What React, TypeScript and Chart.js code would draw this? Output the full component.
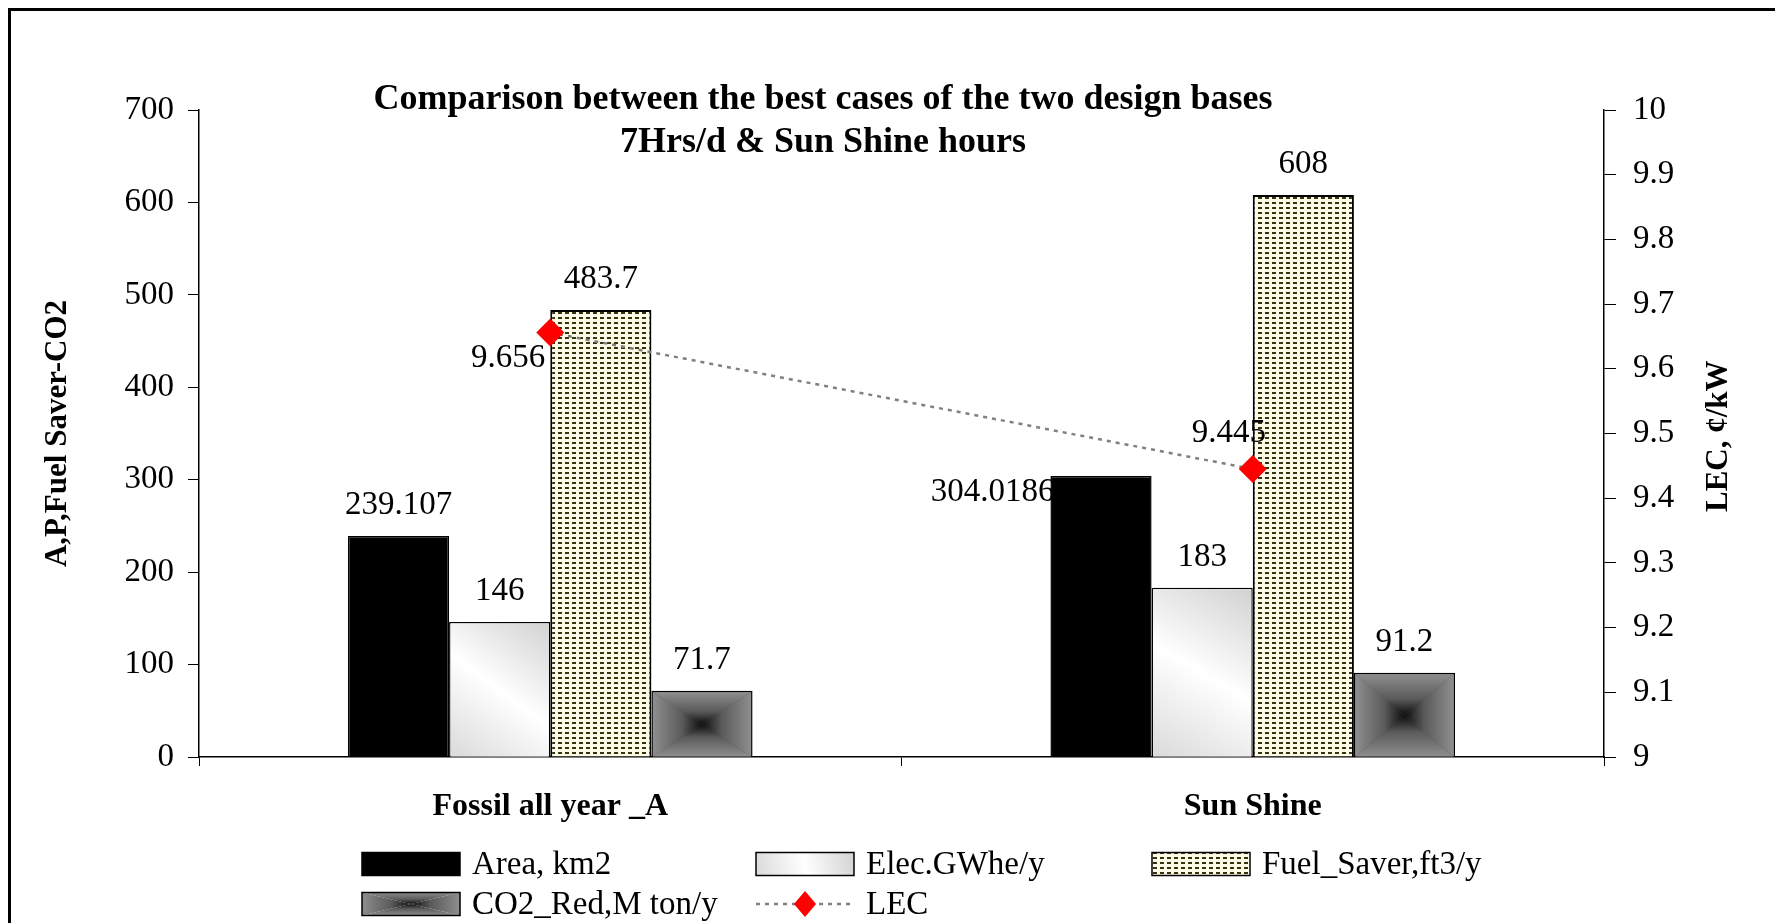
import React, { useEffect, useRef } from 'react';
import { Chart, registerables } from 'chart.js';

Chart.register(...registerables);

// ---------- data ----------
const categories = ['Fossil all year _A', 'Sun Shine'];
const seriesNames = ['Area, km2', 'Elec.GWhe/y', 'Fuel_Saver,ft3/y', 'CO2_Red,M ton/y', 'LEC'];
const areaKm2 = [239.107, 304.0186];
const elecGWh = [146, 183];
const fuelSaver = [483.7, 608];
const co2Red = [71.7, 91.2];
const lecValues = [9.656, 9.445];
const leftAxisRange = [0, 700];
const leftAxisStep = 100;
const rightAxisRange = [9, 10];
const rightAxisStep = 0.1;
const titleLines = ['Comparison between the best cases of the two design bases', '7Hrs/d & Sun Shine hours'];
const leftAxisTitle = 'A,P,Fuel Saver-CO2';
const rightAxisTitle = 'LEC, \u00A2/kW';

const FONT = '"Liberation Serif", "Times New Roman", serif';
const NUM_SIZE = 33;

// ---------- fills ----------
function makeFuelPattern(ctx: CanvasRenderingContext2D): CanvasPattern | string {
  const c = document.createElement('canvas');
  c.width = 7;
  c.height = 5;
  const g = c.getContext('2d');
  if (!g) return '#e8e6cc';
  g.fillStyle = '#fdfbe8';
  g.fillRect(0, 0, 7, 5);
  g.fillStyle = '#34340c';
  g.fillRect(1, 1, 4, 2);
  return ctx.createPattern(c, 'repeat') || '#e8e6cc';
}

function paintFill(ctx: CanvasRenderingContext2D, key: string, x0: number, y0: number, x1: number, y1: number) {
  if (x1 - x0 <= 0 || y1 - y0 <= 0) return;
  if (key === 'elec') {
    const g = ctx.createLinearGradient(x1, y0, x0, y1);
    g.addColorStop(0, '#d2d2d2');
    g.addColorStop(0.5, '#ffffff');
    g.addColorStop(1, '#dadada');
    ctx.fillStyle = g;
    ctx.fillRect(x0, y0, x1 - x0, y1 - y0);
  } else if (key === 'co2') {
    const cx = (x0 + x1) / 2;
    const cy = (y0 + y1) / 2;
    const sides: [number, number, number, number, number[][]][] = [
      [cx, y0, cx, cy, [[x0, y0], [x1, y0]]],
      [cx, y1, cx, cy, [[x0, y1], [x1, y1]]],
      [x0, cy, cx, cy, [[x0, y0], [x0, y1]]],
      [x1, cy, cx, cy, [[x1, y0], [x1, y1]]],
    ];
    sides.forEach(([gx0, gy0, gx1, gy1, pts]) => {
      const g = ctx.createLinearGradient(gx0, gy0, gx1, gy1);
      g.addColorStop(0, '#8e8e8e');
      g.addColorStop(0.6, '#5a5a5a');
      g.addColorStop(1, '#0c0c0c');
      ctx.fillStyle = g;
      ctx.beginPath();
      ctx.moveTo(pts[0][0], pts[0][1]);
      ctx.lineTo(pts[1][0], pts[1][1]);
      ctx.lineTo(cx, cy);
      ctx.closePath();
      ctx.fill();
    });
  }
}

// ---------- plugins ----------
const barFillPlugin = {
  id: 'barFills',
  afterDatasetDraw(chart: any, args: any) {
    const ds = chart.data.datasets[args.index];
    const key = ds.fillKey;
    if (key !== 'elec' && key !== 'co2') return;
    const ctx: CanvasRenderingContext2D = chart.ctx;
    const bw = ds.borderWidth || 0;
    ctx.save();
    args.meta.data.forEach((el: any) => {
      const p = el.getProps(['x', 'y', 'base', 'width'], true);
      const x0 = p.x - p.width / 2;
      const x1 = p.x + p.width / 2;
      const top = Math.min(p.y, p.base);
      const bot = Math.max(p.y, p.base);
      paintFill(ctx, key, x0 + bw, top + bw, x1 - bw, bot);
    });
    ctx.restore();
  },
};

const valueLabelPlugin = {
  id: 'valueLabels',
  afterDatasetsDraw(chart: any) {
    const ctx: CanvasRenderingContext2D = chart.ctx;
    ctx.save();
    ctx.font = `${NUM_SIZE}px ${FONT}`;
    ctx.fillStyle = '#000';
    ctx.textBaseline = 'alphabetic';
    chart.data.datasets.forEach((ds: any, di: number) => {
      const meta = chart.getDatasetMeta(di);
      meta.data.forEach((el: any, i: number) => {
        const text = String(ds.data[i]);
        const p = el.getProps(['x', 'y', 'width'], true);
        if (ds.type === 'line') {
          if (i === 0) {
            ctx.textAlign = 'right';
            ctx.fillText(text, p.x - 5, p.y + 34);
          } else {
            ctx.textAlign = 'center';
            ctx.fillText(text, p.x - 24, p.y - 27);
          }
        } else if (ds.fillKey === 'area' && i === 1) {
          ctx.textAlign = 'right';
          ctx.fillText(text, p.x - p.width / 2 + 4, p.y + 25);
        } else {
          ctx.textAlign = 'center';
          ctx.fillText(text, p.x, p.y - 22);
        }
      });
    });
    ctx.restore();
  },
};

const decorPlugin = {
  id: 'decor',
  afterDraw(chart: any) {
    const ctx: CanvasRenderingContext2D = chart.ctx;
    ctx.save();
    // title
    ctx.fillStyle = '#000';
    ctx.font = `bold 36px ${FONT}`;
    ctx.textAlign = 'center';
    ctx.textBaseline = 'middle';
    ctx.fillText(titleLines[0], 812, 89);
    ctx.fillText(titleLines[1], 812, 132);

    // right axis title (reads bottom to top)
    ctx.save();
    ctx.translate(1708, 501);
    ctx.rotate(-Math.PI / 2);
    ctx.font = `bold 31px ${FONT}`;
    ctx.textAlign = 'left';
    ctx.textBaseline = 'middle';
    ctx.fillText(rightAxisTitle, 0, 0);
    ctx.restore();

    // legend
    const cols = [351, 745, 1141];
    const rows = [853, 893];
    const bw = 98;
    const bh = 23;
    ctx.font = `${NUM_SIZE}px ${FONT}`;
    ctx.textAlign = 'left';
    ctx.textBaseline = 'middle';
    chart.data.datasets.forEach((ds: any, i: number) => {
      const x = cols[i % 3];
      const y = rows[Math.floor(i / 3)];
      if (ds.type === 'line') {
        ctx.save();
        ctx.strokeStyle = ds.borderColor;
        ctx.lineWidth = ds.borderWidth;
        ctx.setLineDash(ds.borderDash);
        ctx.beginPath();
        ctx.moveTo(x, y);
        ctx.lineTo(x + bw, y);
        ctx.stroke();
        ctx.setLineDash([]);
        ctx.fillStyle = ds.pointBackgroundColor;
        const r = 13;
        ctx.beginPath();
        ctx.moveTo(x + bw / 2, y - r);
        ctx.lineTo(x + bw / 2 + r * 0.85, y);
        ctx.lineTo(x + bw / 2, y + r);
        ctx.lineTo(x + bw / 2 - r * 0.85, y);
        ctx.closePath();
        ctx.fill();
        ctx.restore();
      } else {
        const x0 = x;
        const y0 = y - bh / 2;
        if (ds.fillKey === 'elec' || ds.fillKey === 'co2') {
          paintFill(ctx, ds.fillKey, x0, y0, x0 + bw, y0 + bh);
        } else {
          ctx.fillStyle = ds.backgroundColor;
          ctx.fillRect(x0, y0, bw, bh);
        }
        ctx.strokeStyle = '#000';
        ctx.lineWidth = 1.5;
        ctx.strokeRect(x0, y0, bw, bh);
      }
      ctx.fillStyle = '#000';
      ctx.fillText(ds.label, x + bw + 12, y + 1);
    });
    ctx.restore();
  },
};

export default function App() {
  const canvasRef = useRef<HTMLCanvasElement | null>(null);

  useEffect(() => {
    document.body.style.overflow = 'hidden';
    const canvas = canvasRef.current;
    if (!canvas) return;
    const ctx = canvas.getContext('2d');
    if (!ctx) return;
    Chart.defaults.font.family = FONT;
    Chart.defaults.color = '#000';
    const fuelPattern = makeFuelPattern(ctx);

    const chart = new Chart(ctx, {
      type: 'bar',
      data: {
        labels: categories,
        datasets: [
          {
            type: 'bar',
            label: seriesNames[0],
            data: areaKm2,
            backgroundColor: '#000',
            borderColor: '#000',
            borderWidth: 1.5,
            yAxisID: 'y',
            fillKey: 'area',
          } as any,
          {
            type: 'bar',
            label: seriesNames[1],
            data: elecGWh,
            backgroundColor: '#f4f4f4',
            borderColor: '#000',
            borderWidth: 1.5,
            yAxisID: 'y',
            fillKey: 'elec',
          } as any,
          {
            type: 'bar',
            label: seriesNames[2],
            data: fuelSaver,
            backgroundColor: fuelPattern,
            borderColor: '#000',
            borderWidth: 2,
            yAxisID: 'y',
            fillKey: 'fuel',
          } as any,
          {
            type: 'bar',
            label: seriesNames[3],
            data: co2Red,
            backgroundColor: '#555',
            borderColor: '#000',
            borderWidth: 1.5,
            yAxisID: 'y',
            fillKey: 'co2',
          } as any,
          {
            type: 'line',
            label: seriesNames[4],
            data: lecValues,
            yAxisID: 'y1',
            borderColor: '#808080',
            borderWidth: 2.5,
            borderDash: [4, 5],
            pointStyle: 'rectRot',
            pointRadius: 14,
            pointHoverRadius: 14,
            pointBackgroundColor: '#ff0000',
            pointBorderColor: '#ff0000',
            pointBorderWidth: 0,
            fill: false,
            tension: 0,
            order: -1,
          } as any,
        ],
      },
      options: {
        animation: false,
        responsive: true,
        maintainAspectRatio: false,
        layout: { padding: { top: 99, left: 0, right: 0, bottom: 0 } },
        datasets: {
          bar: { categoryPercentage: 0.576, barPercentage: 1 },
        },
        plugins: {
          legend: { display: false },
          tooltip: { enabled: false },
          title: { display: false },
        },
        scales: {
          x: {
            offset: true,
            grid: { display: true, offset: true, drawOnChartArea: false, drawTicks: true, tickLength: 9, color: '#000', lineWidth: 1 },
            border: { display: true, color: '#000', width: 1.5 },
            ticks: { font: { size: 32, weight: 'bold' }, color: '#000', padding: 22, maxRotation: 0 },
            afterFit: (s: any) => {
              s.height = 166;
            },
          },
          y: {
            position: 'left',
            min: leftAxisRange[0],
            max: leftAxisRange[1],
            ticks: { stepSize: leftAxisStep, font: { size: NUM_SIZE }, color: '#000', padding: 14 },
            grid: { drawOnChartArea: false, drawTicks: true, tickLength: 11, color: '#000', lineWidth: 1 },
            border: { display: true, color: '#000', width: 1.5 },
            title: {
              display: true,
              text: leftAxisTitle,
              font: { size: 31, weight: 'bold' },
              color: '#000',
              padding: { top: 28, bottom: 0 },
            },
            afterFit: (s: any) => {
              s.width = 188;
            },
          },
          y1: {
            position: 'right',
            min: rightAxisRange[0],
            max: rightAxisRange[1],
            ticks: {
              stepSize: rightAxisStep,
              font: { size: NUM_SIZE },
              color: '#000',
              padding: 17,
              callback: (v: any) => String(Math.round(Number(v) * 10) / 10),
            },
            grid: { drawOnChartArea: false, drawTicks: true, tickLength: 12, color: '#000', lineWidth: 1 },
            border: { display: true, color: '#000', width: 1.5 },
            afterFit: (s: any) => {
              s.width = 172;
            },
          },
        },
      } as any,
      plugins: [barFillPlugin, valueLabelPlugin, decorPlugin],
    });

    return () => {
      chart.destroy();
    };
  }, []);

  return (
    <div style={{ border: '3px solid #000', width: 1765, height: 930, boxSizing: 'content-box' }}>
      <div style={{ position: 'relative', width: 1765, height: 912 }}>
        <canvas ref={canvasRef} />
      </div>
    </div>
  );
}
